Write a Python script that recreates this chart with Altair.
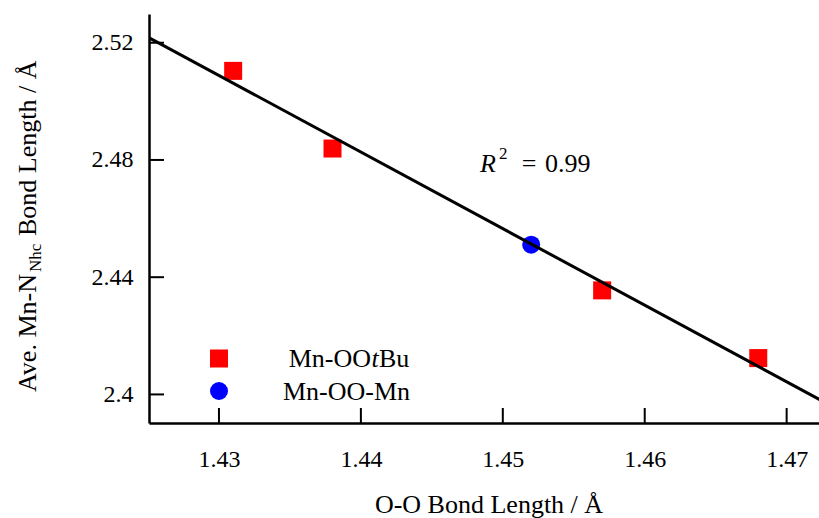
import altair as alt
import pandas as pd

# Measured bond lengths (Å)
tbu_oo = [1.431, 1.438, 1.457, 1.468]
tbu_mn_n = [2.5104, 2.4839, 2.4355, 2.4124]
peroxo_oo = [1.452]
peroxo_mn_n = [2.4511]

x_ticks = [1.43, 1.44, 1.45, 1.46, 1.47]
y_ticks = [2.40, 2.44, 2.48, 2.52]

series_names = ["Mn-OOtBu", "Mn-OO-Mn"]
fit_label = "0.99"

FONT = "Liberation Serif, Times New Roman, Times, serif"
W, H = 670, 409

xs = alt.Scale(domain=[1.42507, 1.47228], nice=False, zero=False)
ys = alt.Scale(domain=[2.39025, 2.5298], nice=False, zero=False)

ax_x = alt.Axis(values=x_ticks, format="~g", ticks=False, tickSize=0, grid=False,
                labelPadding=43, labelBaseline="alphabetic", labelFont=FONT,
                labelFontSize=24, labelColor="black", labelFlush=False,
                labelOverlap=False, domainColor="black", domainWidth=2.5, title=None)
ax_y = alt.Axis(values=y_ticks, format="~g", ticks=False, tickSize=0, grid=False,
                labelPadding=16, labelBaseline="middle", labelFont=FONT,
                labelFontSize=24, labelColor="black", labelFlush=False,
                labelOverlap=False, domainColor="black", domainWidth=2.5, title=None)

tbu = pd.DataFrame({"x": tbu_oo, "y": tbu_mn_n, "series": series_names[0]})
peroxo = pd.DataFrame({"x": peroxo_oo, "y": peroxo_mn_n, "series": series_names[1]})
allpts = pd.concat([tbu, peroxo], ignore_index=True)

X = alt.X("x:Q", scale=xs, axis=ax_x)
Y = alt.Y("y:Q", scale=ys, axis=ax_y)

# inward-pointing tick marks
xtick_rules = alt.Chart(pd.DataFrame({"x": x_ticks})).mark_rule(
    color="black", strokeWidth=2).encode(x=X, y=alt.value(H), y2=alt.value(H - 15))
ytick_rules = alt.Chart(pd.DataFrame({"y": y_ticks})).mark_rule(
    color="black", strokeWidth=2).encode(y=Y, x=alt.value(0), x2=alt.value(15))

squares = alt.Chart(tbu).mark_square(size=324, color="#ff0000", opacity=1).encode(x=X, y=Y)
circles = alt.Chart(peroxo).mark_circle(size=324, color="#0000ff", opacity=1).encode(x=X, y=Y)

# least-squares fit through all five structures
fit = alt.Chart(allpts).transform_regression(
    "x", "y", extent=[1.42, 1.48]).mark_line(
    color="black", strokeWidth=3, clip=True).encode(x=X, y=Y)

one = pd.DataFrame({"a": [0]})


def label(text, x, y, size=26, align="left", baseline="alphabetic", angle=0, style="normal"):
    mk = dict(text=text, font=FONT, fontSize=size, align=align, baseline=baseline,
              color="black", fontStyle=style)
    if angle:
        mk["angle"] = angle
    return alt.Chart(one).mark_text(**mk).encode(x=alt.value(x), y=alt.value(y))


texts = [
    # x-axis title
    label("O-O Bond Length / Å", 340, 499, align="center"),
    # y-axis title with subscript
    label("Ave. Mn-N", -113, 378, angle=270),
    label("Nhc", -108, 258, size=17, angle=270),
    label("Bond Length / Å", -113, 222, angle=270),
    # fit quality
    label("R", 331, 158, style="italic"),
    label("2", 350, 145, size=17),
    label("=", 380, 158, align="center"),
    label(fit_label, 396, 158),
    # legend text
    label("Mn-OO", 222, 353, align="right"),
    label("t", 226, 353, align="center", style="italic"),
    label("Bu", 230, 353),
    label(series_names[1], 261, 386, align="right"),
]

leg_sq = alt.Chart(one).mark_square(size=324, color="#ff0000", opacity=1).encode(
    x=alt.value(70), y=alt.value(344.5))
leg_ci = alt.Chart(one).mark_circle(size=324, color="#0000ff", opacity=1).encode(
    x=alt.value(70), y=alt.value(377))

chart = alt.layer(
    xtick_rules, ytick_rules, squares, circles, fit, leg_sq, leg_ci, *texts
).properties(
    width=W, height=H,
    padding={"left": 149, "top": 14, "right": 0, "bottom": 95},
    autosize=alt.AutoSizeParams(type="none"),
    background="white",
).configure_view(stroke=None)

chart.save("out.html", embed_options={"renderer": "svg", "actions": False})
